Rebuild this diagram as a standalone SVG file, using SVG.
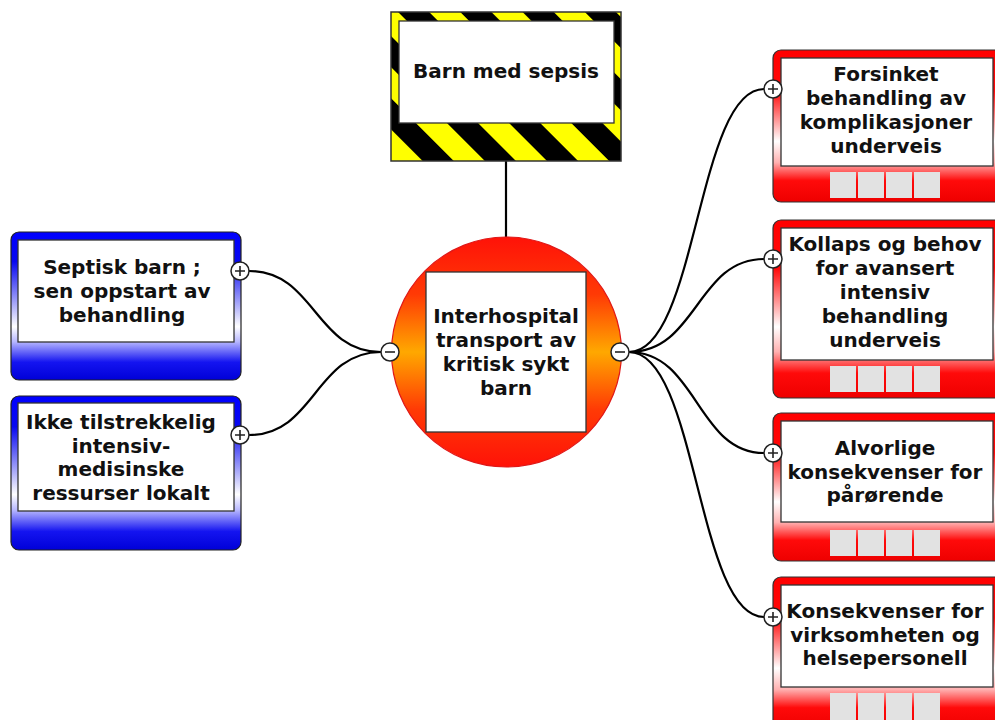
<svg xmlns="http://www.w3.org/2000/svg" width="995" height="720" viewBox="0 0 995 720">
<defs>
  <pattern id="hazard" patternUnits="userSpaceOnUse" width="44" height="44" patternTransform="rotate(-45 391 12)">
    <rect x="0" y="0" width="44" height="44" fill="#ffff00"/>
    <rect x="0" y="0" width="22" height="44" fill="#000000"/>
  </pattern>
  <linearGradient id="gCircle" x1="0" y1="0" x2="0" y2="1">
    <stop offset="0" stop-color="#ff1208"/>
    <stop offset="0.25" stop-color="#ff3a05"/>
    <stop offset="0.5" stop-color="#ffa800"/>
    <stop offset="0.75" stop-color="#ff3a05"/>
    <stop offset="1" stop-color="#ff1208"/>
  </linearGradient>
  <linearGradient id="gBlue" x1="0" y1="0" x2="0" y2="1">
    <stop offset="0" stop-color="#0000ff"/>
    <stop offset="0.2" stop-color="#0808f0"/>
    <stop offset="0.64" stop-color="#ffffff"/>
    <stop offset="0.74" stop-color="#b8b8ff"/>
    <stop offset="0.88" stop-color="#1414f0"/>
    <stop offset="1" stop-color="#0000d8"/>
  </linearGradient>
  <linearGradient id="gRed" x1="0" y1="0" x2="0" y2="1">
    <stop offset="0" stop-color="#ff0000"/>
    <stop offset="0.27" stop-color="#ff0808"/>
    <stop offset="0.6" stop-color="#ffffff"/>
    <stop offset="0.74" stop-color="#ffb0b0"/>
    <stop offset="0.86" stop-color="#ff0a0a"/>
    <stop offset="1" stop-color="#ee0000"/>
  </linearGradient>
  <style>
    .txt { font-family: "DejaVu Sans", Verdana, sans-serif; font-weight: bold; font-size: 20px; fill: #111; text-anchor: middle; }
    .outerB { fill: url(#gBlue); stroke: #222; stroke-width: 1.2; }
    .outerR { fill: url(#gRed); stroke: #333; stroke-width: 1.2; }
    .inner { fill: #ffffff; stroke: #333; stroke-width: 1.3; }
    .sq { fill: #e2e2e2; }
    .btn { fill: #ffffff; stroke: #222; stroke-width: 1.5; }
    .sign { stroke: #222; stroke-width: 1.6; fill: none; }
    .conn { fill: none; stroke: #000; stroke-width: 2.2; }
  </style>
</defs>
<rect width="995" height="720" fill="#ffffff"/>

<g id="connectors">
  <line class="conn" x1="506" y1="161" x2="506" y2="237"/>
  <path class="conn" d="M381,352 C315,352 315,271 249,271"/>
  <path class="conn" d="M381,352 C315,352 315,435 249,435"/>
  <path class="conn" d="M629,352 C697,352 697,89 764,89"/>
  <path class="conn" d="M629,352 C697,352 697,259 764,259"/>
  <path class="conn" d="M629,352 C697,352 697,453 764,453"/>
  <path class="conn" d="M629,352 C697,352 697,617 764,617"/>
</g>

<g id="node-top">
  <rect x="391" y="12" width="230" height="149" fill="url(#hazard)" stroke="#333" stroke-width="1.5"/>
  <rect class="inner" x="399" y="21" width="215" height="102"/>
  <text class="txt" x="506" y="78">Barn med sepsis</text>
</g>

<g id="node-center">
  <circle cx="506.5" cy="352" r="115" fill="url(#gCircle)" stroke="#e01818" stroke-width="1.2"/>
  <rect class="inner" x="426" y="272" width="160" height="160" stroke-width="1.6"/>
  <text class="txt" x="506" y="323">Interhospital</text>
  <text class="txt" x="506" y="347">transport av</text>
  <text class="txt" x="506" y="371">kritisk sykt</text>
  <text class="txt" x="506" y="395">barn</text>
  <circle class="btn" cx="390" cy="352" r="9"/>
  <line class="sign" x1="385" y1="352" x2="395" y2="352"/>
  <circle class="btn" cx="620" cy="352" r="9"/>
  <line class="sign" x1="615" y1="352" x2="625" y2="352"/>
</g>

<g id="node-left1">
  <rect class="outerB" x="11" y="232" width="230" height="148" rx="8"/>
  <rect class="inner" x="18" y="240" width="216" height="102"/>
  <text class="txt" x="122" y="274">Septisk barn ;</text>
  <text class="txt" x="122" y="298">sen oppstart av</text>
  <text class="txt" x="122" y="322">behandling</text>
  <circle class="btn" cx="240" cy="271" r="9"/>
  <path class="sign" d="M235,271 H245 M240,266 V276"/>
</g>

<g id="node-left2">
  <rect class="outerB" x="11" y="396" width="230" height="154" rx="8"/>
  <rect class="inner" x="18" y="403" width="216" height="108"/>
  <text class="txt" x="121" y="429">Ikke tilstrekkelig</text>
  <text class="txt" x="121" y="452.5">intensiv-</text>
  <text class="txt" x="121" y="476">medisinske</text>
  <text class="txt" x="121" y="499.5">ressurser lokalt</text>
  <circle class="btn" cx="240" cy="435" r="9"/>
  <path class="sign" d="M235,435 H245 M240,430 V440"/>
</g>

<g id="node-right1">
  <rect class="outerR" x="773" y="50" width="230" height="152" rx="8"/>
  <rect class="inner" x="781" y="58" width="212" height="108"/>
  <text class="txt" x="886" y="81">Forsinket</text>
  <text class="txt" x="886" y="105">behandling av</text>
  <text class="txt" x="886" y="129">komplikasjoner</text>
  <text class="txt" x="886" y="153">underveis</text>
  <rect class="sq" x="830" y="172" width="26" height="26"/>
  <rect class="sq" x="858" y="172" width="26" height="26"/>
  <rect class="sq" x="886" y="172" width="26" height="26"/>
  <rect class="sq" x="914" y="172" width="26" height="26"/>
  <circle class="btn" cx="773" cy="89" r="9"/>
  <path class="sign" d="M768,89 H778 M773,84 V94"/>
</g>

<g id="node-right2">
  <rect class="outerR" x="773" y="220" width="230" height="178" rx="8"/>
  <rect class="inner" x="781" y="228" width="212" height="132"/>
  <text class="txt" x="885" y="251">Kollaps og behov</text>
  <text class="txt" x="885" y="275">for avansert</text>
  <text class="txt" x="885" y="299">intensiv</text>
  <text class="txt" x="885" y="323">behandling</text>
  <text class="txt" x="885" y="347">underveis</text>
  <rect class="sq" x="830" y="366" width="26" height="26"/>
  <rect class="sq" x="858" y="366" width="26" height="26"/>
  <rect class="sq" x="886" y="366" width="26" height="26"/>
  <rect class="sq" x="914" y="366" width="26" height="26"/>
  <circle class="btn" cx="773" cy="259" r="9"/>
  <path class="sign" d="M768,259 H778 M773,254 V264"/>
</g>

<g id="node-right3">
  <rect class="outerR" x="773" y="413" width="230" height="148" rx="8"/>
  <rect class="inner" x="781" y="421" width="212" height="101"/>
  <text class="txt" x="885" y="455">Alvorlige</text>
  <text class="txt" x="885" y="478.5">konsekvenser for</text>
  <text class="txt" x="885" y="502">pårørende</text>
  <rect class="sq" x="830" y="530" width="26" height="26"/>
  <rect class="sq" x="858" y="530" width="26" height="26"/>
  <rect class="sq" x="886" y="530" width="26" height="26"/>
  <rect class="sq" x="914" y="530" width="26" height="26"/>
  <circle class="btn" cx="773" cy="453" r="9"/>
  <path class="sign" d="M768,453 H778 M773,448 V458"/>
</g>

<g id="node-right4">
  <rect class="outerR" x="773" y="577" width="230" height="152" rx="8"/>
  <rect class="inner" x="781" y="585" width="212" height="102"/>
  <text class="txt" x="885" y="618">Konsekvenser for</text>
  <text class="txt" x="885" y="641.5">virksomheten og</text>
  <text class="txt" x="885" y="665">helsepersonell</text>
  <rect class="sq" x="830" y="693" width="26" height="27"/>
  <rect class="sq" x="858" y="693" width="26" height="27"/>
  <rect class="sq" x="886" y="693" width="26" height="27"/>
  <rect class="sq" x="914" y="693" width="26" height="27"/>
  <circle class="btn" cx="773" cy="617" r="9"/>
  <path class="sign" d="M768,617 H778 M773,612 V622"/>
</g>
</svg>
